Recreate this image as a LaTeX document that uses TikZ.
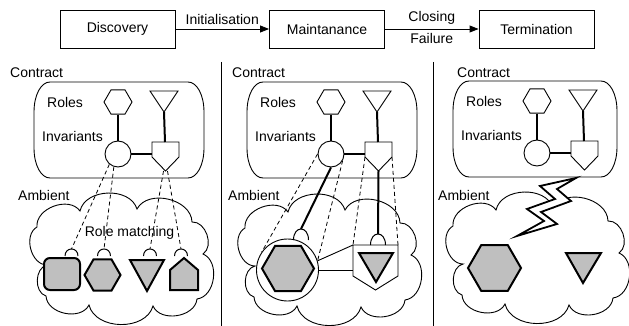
\documentclass[tikz,border=0pt]{standalone}
\usepackage{fontspec}
\setmainfont{Liberation Sans}
\usetikzlibrary{arrows.meta,shapes.geometric}
\tikzset{
  lbl/.style={anchor=west, inner sep=0pt},
  outl/.style={line width=0.9pt},
  link/.style={line width=2pt},
  dashlink/.style={line width=0.8pt, dash pattern=on 4pt off 3pt},
  hookline/.style={line width=1pt},
  stagebox/.style={draw, line width=0.9pt, minimum width=115pt, minimum height=38pt, inner sep=0pt},
  flow/.style={line width=0.9pt, -{Triangle[length=9pt,width=7pt]}},
  chex/.style={regular polygon, regular polygon sides=6, draw, line width=0.9pt, minimum size=28pt, inner sep=0pt},
  ccirc/.style={circle, draw, line width=0.9pt, minimum size=26pt, inner sep=0pt},
  gshape/.style={fill=black!25, draw, line width=2pt},
  ghex/.style={regular polygon, regular polygon sides=6, gshape, inner sep=0pt},
  lobe/.style={bend left=75, looseness=1.05},
}
\newcommand\contractgroup[4]{%
\begin{scope}[shift={(#2,#3)}]
\draw[outl] (16,0) -- (#4-16,0) .. controls (#4-7,0) and (#4,13) .. (#4,30) -- (#4,66) .. controls (#4,83) and (#4-7,96) .. (#4-16,96) -- (16,96) .. controls (7,96) and (0,83) .. (0,66) -- (0,30) .. controls (0,13) and (7,0) .. (16,0) -- cycle;
\node[lbl] (#1roles) at (13,20) {Roles};
\node[lbl] (#1inv) at (8,54) {Invariants};
\node[chex] (#1h) at (84,20) {};
\draw[outl] (116,9) -- (144,9) -- (130,30) coordinate (#1ta) -- cycle;
\node[ccirc] (#1c) at (84,72) {};
\draw[outl] (118,60) -- (145,60) -- (145,75) coordinate (#1qr) -- (131.5,89) coordinate (#1qa) -- (118,75) coordinate (#1ql) -- cycle;
\coordinate (#1qt) at (131,60);
\coordinate (#1qm) at (118,72);
\draw[link] (#1h) -- (#1c);
\draw[link] (#1ta) -- (#1qt);
\draw[link] (#1c) -- (#1qm);
\end{scope}}
\newcommand\ambientcloud[3]{%
\begin{scope}[shift={(#2,#3)}]
\draw[outl] (15,29) coordinate (#1) to[lobe] (58,13) to[lobe] (115,11) to[lobe] (170,24) to[lobe] (181,56) to[lobe] (175,101) to[lobe] (131,108) to[lobe] (67,107) to[lobe] (24,98) to[lobe] (25,67) to[lobe] (15,29) -- cycle;
\end{scope}}
\newcommand\hookat[5]{%
\coordinate (#1) at (#2,#3-#5);
\draw[hookline] (#2-#4,#3) .. controls (#2-#4,#3-1.333*#5) and (#2+#4,#3-1.333*#5) .. (#2+#4,#3);}
\begin{document}
\begin{tikzpicture}[x=1pt,y=-1pt,font=\fontsize{14}{16}\selectfont]
\useasboundingbox (0,0) rectangle (629,326);
% stages
\node[stagebox] (disc) at (117.5,29) {Discovery};
\node[stagebox] (maint) at (327,29) {Maintanance};
\node[stagebox] (term) at (536.5,29) {Termination};
\draw[flow] (disc) -- node[above=1pt] (init) {Initialisation} (maint);
\draw[flow] (maint) -- node[above=1pt] (clos) {Closing} node[below=1pt] (fail) {Failure} (term);
% dividers
\coordinate (d1t) at (221,62); \coordinate (d1b) at (221,326);
\coordinate (d2t) at (433,62); \coordinate (d2b) at (433,326);
\draw[outl] (d1t) -- (d1b);
\draw[outl] (d2t) -- (d2b);
% titles
\node[lbl] (ct1) at (10,73) {Contract};
\node[lbl] (ct2) at (232,73) {Contract};
\node[lbl] (ct3) at (457,73) {Contract};
\node[lbl] (am1) at (18,195) {Ambient};
\node[lbl] (am2) at (228,195) {Ambient};
\node[lbl] (am3) at (438,195) {Ambient};
% contracts
\contractgroup{P1}{34}{82}{170}
\contractgroup{P2}{247}{82}{170}
\contractgroup{P3}{453}{81}{164}
% clouds
\ambientcloud{cl1}{22}{198}
\ambientcloud{cl2}{230}{199}
\ambientcloud{cl3}{438}{197}
% ---- panel 1 ambient
\node (rm) at (129.5,233) {Role matching};
\draw[gshape, rounded corners=6pt] (44,258) rectangle (80,290);
\coordinate (b1) at (62,274);
\node[ghex, minimum size=36pt] (a1h) at (102.5,275) {};
\draw[gshape] (130,260) -- (164,260) -- (147,291) -- cycle;
\draw[gshape] (170,290) -- (170,270) -- (184,258) -- (198,270) -- (198,290) -- cycle;
\hookat{k1}{71.5}{256}{6.5}{7}
\hookat{k2}{104}{256}{6.5}{7}
\hookat{k3}{150}{256}{6.5}{7}
\hookat{k4}{181}{256}{6.5}{7}
\draw[dashlink] (P1c.230) -- (k1);
\draw[dashlink] (P1c.252) -- (k2);
\draw[dashlink] ([xshift=-2pt]P1qa) -- (k3);
\draw[dashlink] ([xshift=2pt]P1qa) -- (k4);
% ---- panel 2 ambient
\node[circle, draw, outl, minimum size=62pt, inner sep=0pt] (bigc) at (287.5,270) {};
\node[ghex, minimum size=52pt] (a2h) at (288,268.5) {};
\draw[outl] (353,245) coordinate (q2tl) -- (398,245) coordinate (q2tr) -- (398,276) -- (375.5,290) -- (353,276) -- cycle;
\coordinate (q2l) at (353,270);
\draw[gshape] (359,253) -- (393,253) -- (376,282) -- cycle;
\hookat{k5}{301}{240}{7.5}{11}
\hookat{k6}{378}{245}{7.5}{11}
\draw[link] (P2c.south) -- (k5);
\draw[link] (P2qa) -- (k6);
\draw[dashlink] (P2c.west) -- (bigc.145);
\draw[dashlink] (P2c.330) -- (bigc.17);
\draw[dashlink] (P2ql) -- (q2tl);
\draw[dashlink] (P2qr) -- (q2tr);
\draw[outl] (bigc.17) -- (q2tl);
\draw[outl] (bigc.east) -- (q2l);
% ---- panel 3 ambient
\node[ghex, minimum size=53pt] (a3h) at (494.5,268) {};
\draw[gshape] (566,253) -- (601,253) -- (583,283) -- cycle;
\draw[fill=white, line width=1.8pt] (576,178) -- (540,186) -- (555,199) -- (527,209) -- (544,221) -- (517,236) -- (557,224) -- (541,212) -- (571,201) -- (557,189) -- cycle;
\end{tikzpicture}
\end{document}
